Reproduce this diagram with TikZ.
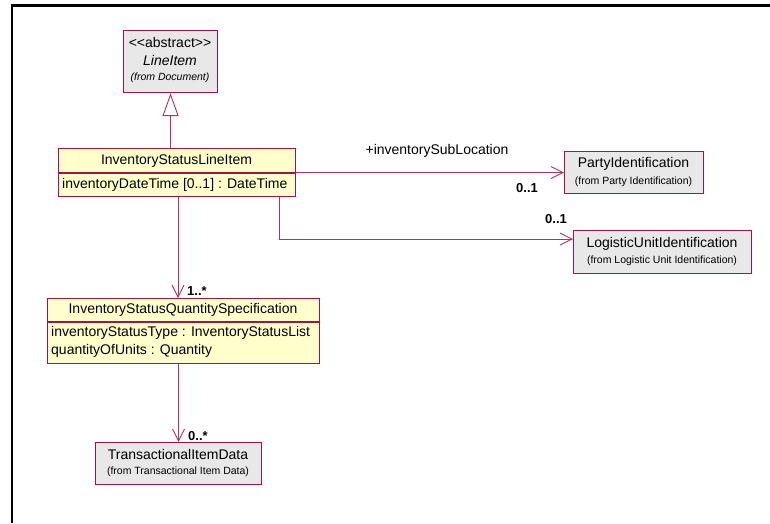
\documentclass[tikz,border=0pt]{standalone}
\usepackage{fontspec}
\setmainfont{Liberation Sans}
\usetikzlibrary{arrows.meta}
\definecolor{umlred}{RGB}{160,20,70}
\definecolor{umlline}{RGB}{175,50,95}
\definecolor{umlyellow}{RGB}{255,255,204}
\definecolor{umlgray}{RGB}{232,232,232}
\tikzset{
  classbox/.style={draw=umlred, line width=1.1pt, inner sep=0pt, anchor=north west},
  yellowbox/.style={classbox, fill=umlyellow},
  graybox/.style={classbox, fill=umlgray},
  nametext/.style={font=\fontsize{14}{16}\selectfont, inner sep=0pt},
  attrtext/.style={font=\fontsize{14}{16}\selectfont, inner sep=0pt, anchor=west},
  fromtext/.style={font=\fontsize{10.5}{12}\selectfont, inner sep=0pt},
  multtext/.style={font=\bfseries\fontsize{13}{15}\selectfont, inner sep=0pt},
  roletext/.style={font=\fontsize{14}{16}\selectfont, inner sep=0pt},
  assoc/.style={draw=umlline, line width=0.9pt, -{Straight Barb[length=12pt,width=12pt,line width=0.9pt]}},
  gener/.style={draw=umlline, line width=0.9pt, -{Triangle[open,length=23pt,width=16pt,line width=0.9pt,fill=white]}},
  divider/.style={draw=umlred, line width=1.1pt}
}
\begin{document}
\begin{tikzpicture}[x=1pt,y=-1pt]
\useasboundingbox (0,0) rectangle (770,523);
% frame
\draw[line width=2.2pt] (12,523) -- (12,5.5) -- (770,5.5);

% LineItem
\node[graybox, minimum width=94pt, minimum height=62pt] (lineitem) at (123,30) {};
\node[nametext] (liSt) at (170,42) {<\kern0pt<abstract>\kern0pt>};
\node[nametext, font=\itshape\fontsize{14}{16}\selectfont] (liName) at (170,60) {LineItem};
\node[fromtext, font=\itshape\fontsize{10.5}{12}\selectfont] (liFrom) at (170,78) {(from Document)};

% InventoryStatusLineItem
\node[yellowbox, minimum width=237pt, minimum height=48pt] (isli) at (58,148) {};
\draw[divider] (58,173) -- (295,173);
\node[nametext] (isliName) at (176.5,161) {InventoryStatusLineItem};
\node[attrtext] (isliAttr) at (62,185) {inventoryDateTime [0..1] : DateTime};

% PartyIdentification
\node[graybox, minimum width=139pt, minimum height=42pt] (party) at (564,151) {};
\node[nametext] (partyName) at (633.5,163.5) {PartyIdentification};
\node[fromtext] (partyFrom) at (633.5,182) {(from Party Identification)};

% LogisticUnitIdentification
\node[graybox, minimum width=178pt, minimum height=43pt] (lu) at (573,230) {};
\node[nametext] (luName) at (662,243.5) {LogisticUnitIdentification};
\node[fromtext] (luFrom) at (662,261) {(from Logistic Unit Identification)};

% InventoryStatusQuantitySpecification
\node[yellowbox, minimum width=272pt, minimum height=65pt] (spec) at (47,298) {};
\draw[divider] (47,322) -- (319,322);
\node[nametext] (specName) at (183,310) {InventoryStatusQuantitySpecification};
\node[attrtext] (specA1) at (51,333) {inventoryStatusType : InventoryStatusList};
\node[attrtext] (specA2) at (51,351) {quantityOfUnits : Quantity};

% TransactionalItemData
\node[graybox, minimum width=166pt, minimum height=42pt] (trans) at (95,442) {};
\node[nametext] (transName) at (178,454.5) {TransactionalItemData};
\node[fromtext] (transFrom) at (178,472) {(from Transactional Item Data)};

% helper coordinates
\coordinate (specX) at (178,0);
\coordinate (luX) at (279,0);
\coordinate (luY) at (0,239);

% connectors
\draw[gener] (lineitem.south |- isli.north) -- (lineitem.south);
\draw[assoc] (isli.east |- party.west) -- (party.west);
\draw[assoc] (isli.south -| luX) |- (lu.west |- luY);
\draw[assoc] (isli.south -| specX) -- (spec.north -| specX);
\draw[assoc] (trans.north |- spec.south) -- (trans.north);

% labels
\node[roletext] (roleSub) at (437,151) {+inventorySubLocation};
\node[multtext] (mParty) at (527,188.5) {0..1};
\node[multtext] (mLu) at (556,219.5) {0..1};
\node[multtext] (mSpec) at (197,291.5) {1..*};
\node[multtext] (mTrans) at (198,436.5) {0..*};
\end{tikzpicture}
\end{document}
